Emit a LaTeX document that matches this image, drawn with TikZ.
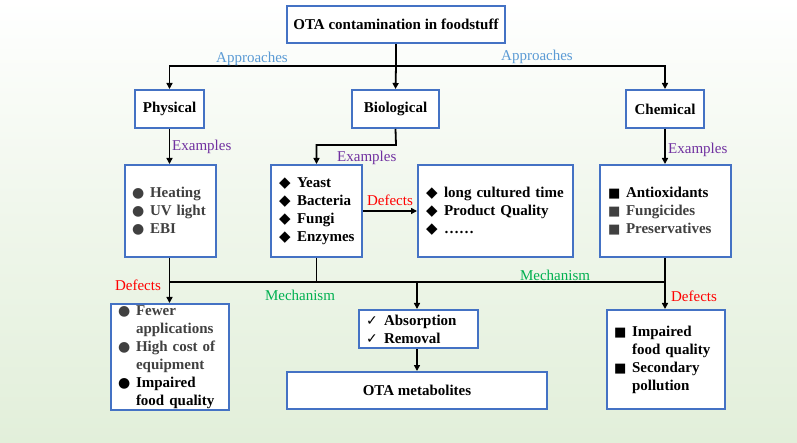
\documentclass[tikz,border=0pt]{standalone}
\usepackage{fontspec}
\setmainfont{Liberation Serif}
\newfontfamily\symf{DejaVu Sans}
\usetikzlibrary{arrows.meta}
\definecolor{bblue}{RGB}{68,114,196}
\definecolor{lblue}{RGB}{91,155,213}
\definecolor{purp}{RGB}{112,48,160}
\definecolor{mgreen}{RGB}{0,176,80}
\definecolor{dgray}{RGB}{64,64,64}
\definecolor{bgg}{RGB}{226,239,218}
\newcommand\dotb{\makebox[18pt][l]{\symf\fontsize{14}{18}\selectfont ●}}
\newcommand\diab{\makebox[18pt][l]{\symf\fontsize{15}{18}\selectfont ◆}}
\newcommand\sqb{\makebox[18pt][l]{\symf\fontsize{13}{18}\selectfont ■}}
\newcommand\chkb{\makebox[18pt][l]{\symf\fontsize{14}{18}\selectfont ✓}}
\newcommand\ind{\hspace*{18pt}}
\begin{document}
\begin{tikzpicture}[x=1pt,y=-1pt,
  box/.style={draw=bblue, line width=2pt, fill=white, inner sep=0pt,
    font=\bfseries\fontsize{15}{18}\selectfont},
  lbox/.style={box, anchor=north west, align=left},
  lab/.style={font=\fontsize{15}{18}\selectfont, inner sep=0pt},
  conn/.style={line width=1.8pt, black},
  arr/.style={conn, -{Triangle[length=6pt,width=6pt]}}]
\useasboundingbox (0,0) rectangle (797,443);
\shade[top color=white, bottom color=bgg, middle color=bgg!55] (0,0) rectangle (797,443);

% main boxes
\node[box, minimum width=218, minimum height=37] (t) at (396,24.5) {OTA contamination in foodstuff};
\node[box, minimum width=69, minimum height=38] (phys) at (169.5,109) {Physical};
\node[box, minimum width=87, minimum height=38] (bio) at (395.5,109) {Biological};
\node[box, minimum width=78, minimum height=38] (chem) at (665,109) {Chemical};

% list boxes
\node[lbox, inner xsep=7pt, text width=77pt, minimum height=92] (physex) at (124,164)
  {\color{dgray}\dotb Heating\\\dotb UV light\\\dotb EBI};
\node[lbox, inner xsep=8pt, text width=75pt, minimum height=92] (bioex) at (270,164)
  {\diab Yeast\\\diab Bacteria\\\diab Fungi\\\diab Enzymes};
\node[lbox, inner xsep=8pt, text width=139pt, minimum height=92] (biodef) at (417,164)
  {\diab long cultured time\\\diab Product Quality\\\diab ……};
\node[lbox, inner xsep=8pt, text width=115pt, minimum height=92] (chemex) at (599,164)
  {\sqb Antioxidants\\{\color{dgray}\sqb Fungicides}\\{\color{dgray}\sqb Preservatives}};
\node[lbox, inner xsep=7pt, text width=104pt, minimum height=106] (physdef) at (110,303)
  {{\color{dgray}\dotb Fewer\\\ind applications\\\dotb High cost of\\\ind equipment}\\\dotb Impaired\\\ind food quality};
\node[lbox, inner xsep=7pt, text width=105pt, minimum height=38] (absorb) at (358,309)
  {\chkb Absorption\\\chkb Removal};
\node[lbox, inner xsep=7pt, text width=104pt, minimum height=99] (chemdef) at (606,309)
  {\sqb Impaired\\\ind food quality\\\sqb Secondary\\\ind pollution};
\node[box, minimum width=260, minimum height=37] (meta) at (417,390.5) {OTA metabolites};

% approaches
\coordinate (j1) at (396,66);
\draw[conn] (t.south) -- (j1);
\draw[arr] (j1) -| (phys.north);
\draw[arr] (j1) -- (bio.north);
\draw[arr] (j1) -| (chem.north);
\node[lab, text=lblue] (ap1) at (252,59) {Approaches};
\node[lab, text=lblue] (ap2) at (537,57) {Approaches};

% examples
\draw[arr] (phys.south) -- (physex.north -| phys.south);
\node[lab, text=purp, anchor=west] (ex1) at (172,147) {Examples};
\coordinate (j2) at (396,145);
\draw[arr] (bio.south) -- (j2) -| (bioex.north);
\node[lab, text=purp, anchor=west] (ex2) at (337,158) {Examples};
\draw[arr] (chem.south) -- (chemex.north -| chem.south);
\node[lab, text=purp, anchor=west] (ex3) at (668,150) {Examples};

\draw[arr] (bioex.east) -- (biodef.west);
\node[lab, text=red] (df1) at (390,200) {Defects};

% mechanism
\coordinate (m) at (0,282);
\draw[conn] (physex.south -| phys.south) |- (chemex.south |- m);
\draw[conn] (bioex.south) -- (bioex.south |- m);
\draw[arr] (physex.south -| phys.south) -- (physdef.north -| phys.south);
\draw[arr] (chemex.south -| chem.south) -- (chemdef.north -| chem.south);
\coordinate (ma) at (417,282);
\draw[arr] (ma) -- (ma |- absorb.north);
\draw[arr] (ma |- absorb.south) -- (ma |- meta.north);
\node[lab, text=red] (df2) at (138,285) {Defects};
\node[lab, text=mgreen] (me1) at (300,295) {Mechanism};
\node[lab, text=mgreen] (me2) at (555,275) {Mechanism};
\node[lab, text=red] (df3) at (694,296) {Defects};
\end{tikzpicture}
\end{document}
